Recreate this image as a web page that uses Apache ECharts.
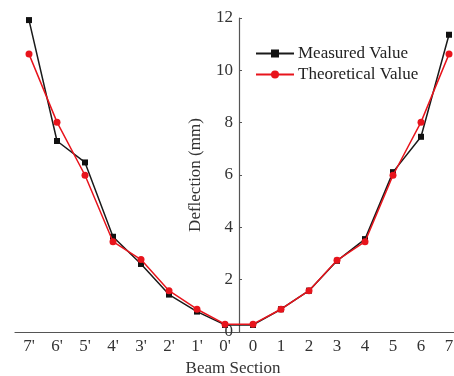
<!DOCTYPE html>
<html>
<head>
<meta charset="utf-8">
<script src="https://cdn.jsdelivr.net/npm/echarts@6/dist/echarts.min.js"></script>
<style>html,body{margin:0;padding:0;background:#fff;}#c{width:454px;height:376px;}</style>
</head>
<body>
<div id="c"></div>
<script>
var categories = ["7'", "6'", "5'", "4'", "3'", "2'", "1'", "0'", "0", "1", "2", "3", "4", "5", "6", "7"];
var measured = [11.92, 7.30, 6.48, 3.64, 2.60, 1.43, 0.78, 0.27, 0.27, 0.87, 1.58, 2.72, 3.55, 6.11, 7.46, 11.36];
var theoretical = [10.62, 8.02, 5.99, 3.45, 2.77, 1.58, 0.87, 0.30, 0.30, 0.87, 1.58, 2.74, 3.45, 5.99, 8.02, 10.62];
var yTicks = [0, 2, 4, 6, 8, 10, 12];

var font = 'Liberation Serif, Times New Roman, serif';
var axisColor = '#555';
var chart = echarts.init(document.getElementById('c'), null, {renderer: 'canvas'});
chart.setOption({
  animation: false,
  backgroundColor: '#fff',
  grid: {left: 15, right: -9, top: 18, bottom: 44, containLabel: false, outerBoundsMode: 'none'},
  legend: {
    left: 255, top: 45, orient: 'vertical', itemGap: 4, padding: 0,
    itemWidth: 38, itemHeight: 10,
    textStyle: {fontFamily: font, fontSize: 17, color: '#222', padding: [0, 0, 0, -1]},
    data: ['Measured Value', 'Theoretical Value']
  },
  xAxis: {
    type: 'category', data: categories, boundaryGap: true,
    name: 'Beam Section', nameLocation: 'middle', nameGap: 28,
    nameTextStyle: {fontFamily: font, fontSize: 17, color: '#333', padding: [0, 12, 0, 0]},
    axisLine: {lineStyle: {color: axisColor, width: 1.2}},
    axisTick: {inside: true, alignWithLabel: true, length: 4, lineStyle: {color: axisColor}},
    axisLabel: {fontFamily: font, fontSize: 17, color: '#333', margin: 6},
    splitLine: {show: false}
  },
  yAxis: {
    type: 'value', min: yTicks[0], max: yTicks[yTicks.length - 1], interval: 2,
    offset: -224,
    name: 'Deflection (mm)', nameLocation: 'middle', nameGap: 35, nameRotate: 90,
    nameTextStyle: {fontFamily: font, fontSize: 17, color: '#333'},
    axisLine: {show: true, lineStyle: {color: axisColor, width: 1.2}},
    axisTick: {show: true, inside: true, length: 3, lineStyle: {color: axisColor}},
    axisLabel: {fontFamily: font, fontSize: 17, color: '#333', margin: 6},
    splitLine: {show: false}
  },
  series: [
    {
      name: 'Measured Value', type: 'line', data: measured,
      symbol: 'rect', symbolSize: 6,
      lineStyle: {color: '#1a1a1a', width: 1.5},
      itemStyle: {color: '#111'}, z: 2
    },
    {
      name: 'Theoretical Value', type: 'line', data: theoretical,
      symbol: 'circle', symbolSize: 7,
      lineStyle: {color: '#e8141c', width: 1.5},
      itemStyle: {color: '#e8141c'}, z: 3
    }
  ]
});
</script>
</body>
</html>
